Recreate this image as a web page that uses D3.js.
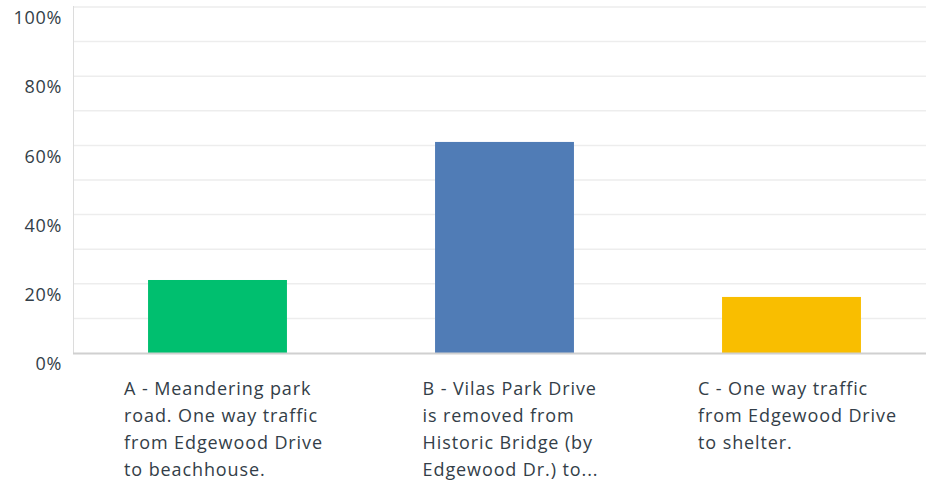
<!DOCTYPE html>
<html>
<head>
<meta charset="utf-8">
<script src="https://cdn.jsdelivr.net/npm/d3@7"></script>
<style>
  html, body { margin: 0; padding: 0; background: #fff; }
  svg { display: block; }
  text { font-family: "Open Sans", sans-serif; fill: #333e48; }
</style>
</head>
<body>
<svg id="chart" width="926" height="483"></svg>
<script>
const categories = ["A", "B", "C"];
const categoryLabels = [
  ["A - Meandering park", "road. One way traffic", "from Edgewood Drive", "to beachhouse."],
  ["B - Vilas Park Drive", "is removed from", "Historic Bridge (by", "Edgewood Dr.) to..."],
  ["C - One way traffic", "from Edgewood Drive", "to shelter."]
];
const values = [21.1, 61.0, 16.2];
const colors = ["#00bf6f", "#507cb6", "#f9be00"];
const majorTicks = [0, 20, 40, 60, 80, 100];
const minorTicks = [10, 30, 50, 70, 90];

const svg = d3.select("#chart");
const mLeft = 73, mRight = 926, mTop = 7, mBottom = 353;

const x = d3.scaleBand().domain(categories).range([mLeft + 1, mLeft + 1 + 861])
  .paddingInner(0.516).paddingOuter(0.258);
const y = d3.scaleLinear().domain([0, 100]).range([mBottom, mTop]);

// gridlines
svg.append("g").selectAll("line").data(majorTicks.concat(minorTicks).filter(d => d > 0))
  .join("line")
  .attr("x1", mLeft).attr("x2", mRight)
  .attr("y1", d => y(d)).attr("y2", d => y(d))
  .attr("stroke", "#ededed").attr("stroke-width", 1.5);

// y axis line
svg.append("line").attr("x1", mLeft + 0.5).attr("x2", mLeft + 0.5)
  .attr("y1", y(100) - 1).attr("y2", mBottom)
  .attr("stroke", "#dcdcdc").attr("stroke-width", 1);

// bars
svg.append("g").selectAll("rect").data(values).join("rect")
  .attr("x", (d, i) => x(categories[i]))
  .attr("width", x.bandwidth())
  .attr("y", d => y(d))
  .attr("height", d => mBottom - y(d))
  .attr("fill", (d, i) => colors[i]);

// baseline
svg.append("line").attr("x1", mLeft).attr("x2", mRight)
  .attr("y1", mBottom + 0.5).attr("y2", mBottom + 0.5)
  .attr("stroke", "#d0d0d0").attr("stroke-width", 2);

// y tick labels
const yAxis = d3.axisLeft(y).tickValues(majorTicks).tickFormat(d => d + "%").tickSize(0).tickPadding(0);
const ya = svg.append("g").attr("transform", `translate(${mLeft - 11},11)`).call(yAxis);
ya.select(".domain").remove();
ya.selectAll("text").attr("font-size", 18).attr("fill", "#3b4550")
  .attr("letter-spacing", 0.7)
  .style("font-family", "'Open Sans', sans-serif");

// x labels
categoryLabels.forEach((lines, i) => {
  const g = svg.append("g");
  const t = g.append("text").attr("font-size", 18).attr("letter-spacing", 0.9);
  lines.forEach((ln, j) => {
    t.append("tspan").attr("x", 0).attr("y", 395 + j * 27).text(ln);
  });
  const w = d3.max(t.selectAll("tspan").nodes(), n => n.getComputedTextLength());
  const cx = x(categories[i]) + x.bandwidth() / 2 + 6;
  g.attr("transform", `translate(${cx - w / 2},0)`);
});
</script>
</body>
</html>
